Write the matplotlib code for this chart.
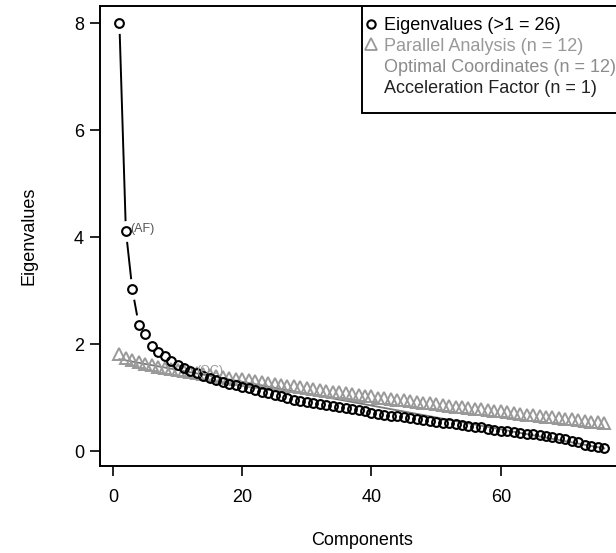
import numpy as np
import matplotlib.pyplot as plt
from matplotlib.lines import Line2D
from matplotlib.patches import Rectangle

plt.rcParams['font.family'] = ['Liberation Sans', 'DejaVu Sans']

# eigenvalues
eigenvalues = [8.00, 4.12, 3.02, 2.36, 2.18, 1.96, 1.86, 1.77, 1.69, 1.61,
               1.55, 1.50, 1.45, 1.40, 1.36, 1.32, 1.29, 1.26, 1.23, 1.20,
               1.17, 1.14, 1.11, 1.08, 1.05, 1.02, 0.99, 0.96, 0.94, 0.92,
               0.90, 0.88, 0.86, 0.84, 0.82, 0.80, 0.78, 0.76, 0.74, 0.72,
               0.70, 0.68, 0.66, 0.65, 0.63, 0.61, 0.60, 0.58, 0.57, 0.55,
               0.53, 0.52, 0.50, 0.48, 0.47, 0.45, 0.44, 0.42, 0.40, 0.38,
               0.37, 0.35, 0.34, 0.32, 0.31, 0.30, 0.28, 0.27, 0.25, 0.22,
               0.19, 0.16, 0.12, 0.09, 0.07, 0.05]

# parallel analysis eigenvalues
parallel = [1.82, 1.74, 1.70, 1.66, 1.63, 1.60, 1.58, 1.56, 1.54, 1.52,
            1.50, 1.48, 1.46, 1.44, 1.42, 1.41, 1.39, 1.37, 1.35, 1.34,
            1.32, 1.30, 1.29, 1.27, 1.26, 1.24, 1.22, 1.21, 1.19, 1.18,
            1.16, 1.14, 1.13, 1.11, 1.10, 1.08, 1.06, 1.05, 1.03, 1.02,
            1.00, 0.99, 0.97, 0.96, 0.95, 0.93, 0.92, 0.90, 0.89, 0.88,
            0.86, 0.85, 0.83, 0.82, 0.81, 0.79, 0.78, 0.77, 0.75, 0.74,
            0.73, 0.71, 0.70, 0.68, 0.67, 0.66, 0.64, 0.63, 0.62, 0.60,
            0.59, 0.58, 0.56, 0.55, 0.54, 0.52]

n_kaiser = 26
n_pa = 12
n_oc = 12
n_af = 1

legend_labels = [f"Eigenvalues (>1 = {n_kaiser})",
                 f"Parallel Analysis (n = {n_pa})",
                 f"Optimal Coordinates (n = {n_oc})",
                 f"Acceleration Factor (n = {n_af})"]

eig = np.array(eigenvalues)
k = np.arange(1, len(eig) + 1)
nk = len(eig)

# optimal coordinates line: through eigenvalue noc+1 and the last one
coef = np.polyfit([n_oc + 1, nk], [eig[n_oc], eig[-1]], 1)
oc_line = np.polyval(coef, k)

fig = plt.figure(figsize=(6.16, 5.53), dpi=100)
ax = fig.add_axes([100 / 616, 87 / 553, 523.6 / 616, 460 / 553])

# type="b" style: line with gaps around the points
ax.plot(k, eig, color='black', lw=1.4, zorder=1.5)
ax.plot(k, eig, ls='none', marker='o', ms=15, mfc='white', mec='none', zorder=2)

ax.plot(k, oc_line, color='#7a7a7a', lw=1.3, zorder=3)
ax.plot(k, parallel, ls='none', marker='^', ms=8.5, mfc='none', mec='#999999',
        mew=1.4, zorder=3)
ax.plot(k, eig, ls='none', marker='o', ms=6.3, mfc='none', mec='black',
        mew=1.5, zorder=4)

ax.annotate("(AF)", (n_af + 1, eig[n_af]), xytext=(3, 1), textcoords='offset points',
            ha='left', va='center', fontsize=9, color='#555555', zorder=5)
ax.annotate("(OC)", (n_oc, eig[n_oc - 1]), xytext=(4, 0), textcoords='offset points',
            ha='left', va='center', fontsize=9, color='#9a9a9a', zorder=5)

ax.set_xlim(-2, 79)
ax.set_ylim(-0.28, 8.32)
ax.set_xticks([0, 20, 40, 60])
ax.set_yticks([0, 2, 4, 6, 8])
ax.tick_params(direction='out', length=7.5, width=1.2, labelsize=13)
ax.tick_params(axis='x', pad=9)
ax.tick_params(axis='y', pad=4)
for s in ax.spines.values():
    s.set_linewidth(1.4)

ax.set_xlabel("Components", fontsize=13, labelpad=19)
ax.set_ylabel("Eigenvalues", fontsize=13, labelpad=26)

# legend box (R style, a bit of extra room at the bottom)
ax.add_patch(Rectangle((0.5004, 0.767), 0.5, 0.233, transform=ax.transAxes,
                       facecolor='white', edgecolor='black', lw=1.4,
                       clip_on=False, zorder=5))

handles = [Line2D([], [], ls='none', marker='o', ms=6, mfc='none', mec='black', mew=1.5),
           Line2D([], [], ls='none', marker='^', ms=8, mfc='none', mec='#999999', mew=1.3),
           Line2D([], [], ls='none'),
           Line2D([], [], ls='none')]
leg = ax.legend(handles, legend_labels, loc='upper left', bbox_to_anchor=(0.4884, 1),
                borderaxespad=0, frameon=False, fontsize=13, handlelength=0.5,
                handletextpad=0.47, borderpad=0.6, labelspacing=0.22)
leg.set_zorder(6)
for txt, c in zip(leg.get_texts(), ['black', '#999999', '#8c8c8c', '#222222']):
    txt.set_color(c)

fig.savefig("out.png", dpi=100)
